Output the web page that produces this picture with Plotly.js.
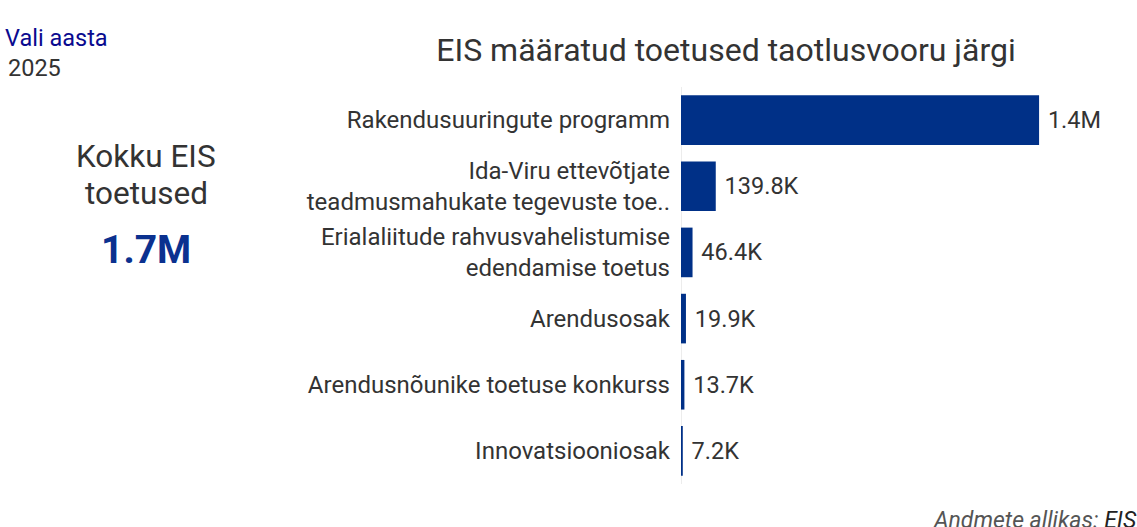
<!DOCTYPE html>
<html><head><meta charset="utf-8">
<script src="https://cdn.plot.ly/plotly-3.0.1.min.js"></script>
<style>html,body{margin:0;padding:0;background:#fff;}#c{width:1137px;height:527px;}</style>
</head><body><div id="c"></div>
<script>
const categories = [
  'Rakendusuuringute programm',
  'Ida-Viru ettevõtjate<br>teadmusmahukate tegevuste toe..',
  'Erialaliitude rahvusvahelistumise<br>edendamise toetus',
  'Arendusosak',
  'Arendusnõunike toetuse konkurss',
  'Innovatsiooniosak'
];
const values = [1440000, 139800, 46400, 19900, 13700, 7200];
const valueLabels = ['1.4M', '139.8K', '46.4K', '19.9K', '13.7K', '7.2K'];
const totalLabel = '1.7M';
const yearLabel = '2025';

const W = 1137, H = 527;
const font = 'Roboto, "Noto Sans", sans-serif';

const trace = {
  type: 'bar', orientation: 'h',
  y: categories, x: values,
  text: valueLabels, texttemplate: '\u00A0%{text}', textposition: 'outside', cliponaxis: false,
  textfont: {family: font, size: 23.5, color: '#333333'},
  marker: {color: '#003087'},
  width: 0.75,
  hoverinfo: 'skip'
};

const layout = {
  width: W, height: H,
  margin: {l: 0, r: 0, t: 0, b: 0},
  paper_bgcolor: '#ffffff', plot_bgcolor: '#ffffff',
  showlegend: false,
  font: {family: font, color: '#333333'},
  title: {text: 'EIS määratud toetused taotlusvooru järgi', x: 726/W, xanchor: 'center', y: 1 - 50/H, yanchor: 'middle',
          font: {family: font, size: 32, color: '#333333'}},
  xaxis: {domain: [681/W, 1100/W], range: [0, 1685000], showgrid: false, showticklabels: false,
          zeroline: true, zerolinecolor: '#ececec', zerolinewidth: 1, fixedrange: true},
  yaxis: {domain: [1 - 484/H, 1 - 87/H], autorange: 'reversed', showgrid: false, zeroline: false,
          tickfont: {family: font, size: 24, color: '#333333'}, ticklabelstandoff: 10, ticks: '', fixedrange: true},
  annotations: [
    {text: 'Vali aasta', xref: 'paper', yref: 'paper', x: 3/W, y: 1 - 38/H, xanchor: 'left', yanchor: 'middle', showarrow: false,
     font: {family: font, size: 23.5, color: '#0a0a8f'}},
    {text: yearLabel, xref: 'paper', yref: 'paper', x: 6/W, y: 1 - 68/H, xanchor: 'left', yanchor: 'middle', showarrow: false,
     font: {family: font, size: 23.5, color: '#333333'}},
    {text: 'Kokku EIS', xref: 'paper', yref: 'paper', x: 146/W, y: 1 - 157/H, xanchor: 'center', yanchor: 'middle', showarrow: false,
     font: {family: font, size: 31.5, color: '#333333'}},
    {text: 'toetused', xref: 'paper', yref: 'paper', x: 146/W, y: 1 - 193/H, xanchor: 'center', yanchor: 'middle', showarrow: false,
     font: {family: font, size: 31.5, color: '#333333'}},
    {text: '<b>' + totalLabel + '</b>', xref: 'paper', yref: 'paper', x: 146/W, y: 1 - 250/H, xanchor: 'center', yanchor: 'middle', showarrow: false,
     font: {family: font, size: 39, color: '#0b318f'}},
    {text: '<i>Andmete allikas: </i><i><span style="color:#222">EIS</span></i>', xref: 'paper', yref: 'paper', x: 931/W, y: 1 - 520/H, xanchor: 'left', yanchor: 'middle', showarrow: false,
     font: {family: font, size: 23, color: '#555555'}}
  ]
};

Plotly.newPlot('c', [trace], layout, {displayModeBar: false, staticPlot: true});
</script></body></html>
